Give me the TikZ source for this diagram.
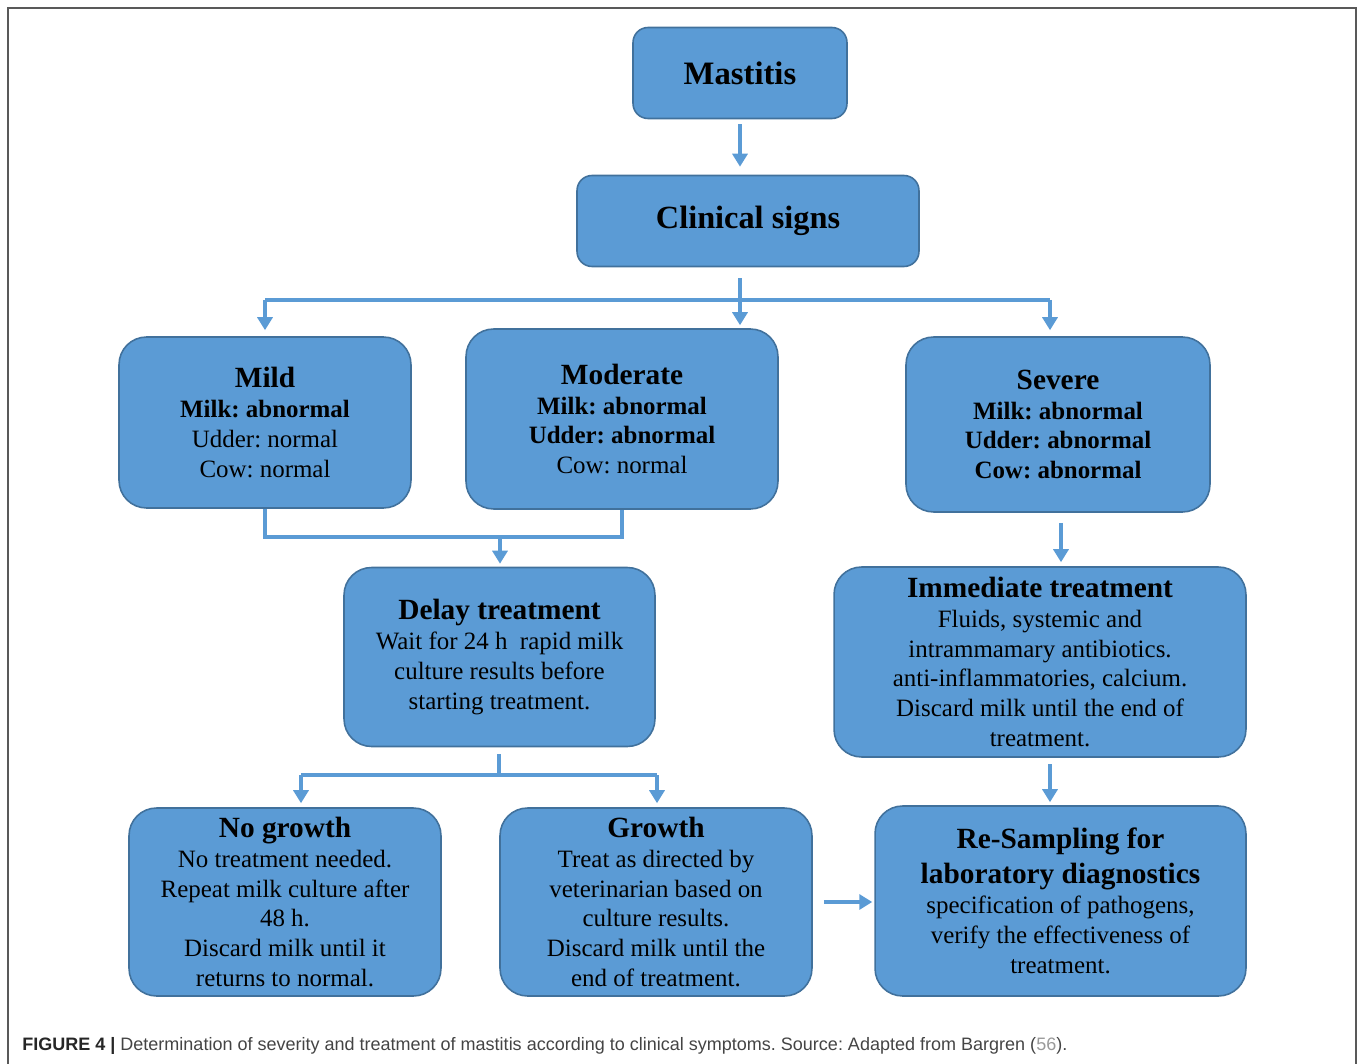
\documentclass[tikz,border=0pt]{standalone}
\usepackage{fontspec}
\setmainfont{Liberation Serif}
\newfontfamily\capfont{Liberation Sans}
\usetikzlibrary{arrows.meta}
\definecolor{boxblue}{HTML}{5B9BD5}
\definecolor{boxedge}{HTML}{41719C}
\definecolor{capgray}{HTML}{444444}
\tikzset{
  box/.style={draw=boxedge, fill=boxblue, line width=0.9pt, rounded corners=0.55cm,
    align=center, inner sep=0pt, font=\fontsize{14.2}{17}\selectfont},
  conn/.style={draw=boxblue, line width=2.2pt},
  arr/.style={conn, -{Triangle[width=0.3cm, length=0.26cm]}},
}
\newcommand{\hd}[1]{{\fontsize{16.7}{20}\selectfont\bfseries #1}}
\begin{document}
\frenchspacing
\begin{tikzpicture}[x=0.02cm, y=-0.02cm]
  \useasboundingbox (0,0) rectangle (1360,1064);
  % frame round the figure (open at the bottom)
  \draw[line width=1.2pt, draw=black!65] (8,1064) -- (8,8) -- (1356,8) -- (1356,1064);
  % boxes
  \node[box, rounded corners=0.3cm, minimum width=4.28cm, minimum height=1.82cm] (mast) at (740,73)
    {\fontsize{18.6}{22}\selectfont\bfseries Mastitis};
  \node[box, rounded corners=0.3cm, minimum width=6.84cm, minimum height=1.82cm] (clin) at (748,221)
    {\fontsize{18.4}{22}\selectfont\bfseries Clinical signs};
  \node[box, minimum width=5.84cm, minimum height=3.42cm] (mild) at (265,422.5)
    {\hd{Mild}\\ \textbf{Milk: abnormal}\\ Udder: normal\\ Cow: normal};
  \node[box, minimum width=6.24cm, minimum height=3.6cm] (mod) at (622,419)
    {\hd{Moderate}\\ \textbf{Milk: abnormal}\\ \textbf{Udder: abnormal}\\ Cow: normal};
  \node[box, minimum width=6.08cm, minimum height=3.5cm] (sev) at (1058,424.5)
    {\hd{Severe}\\ \textbf{Milk: abnormal}\\ \textbf{Udder: abnormal}\\ \textbf{Cow: abnormal}};
  \node[box, minimum width=6.22cm, minimum height=3.58cm] (delay) at (499.5,657)
    {\hd{Delay treatment}\\ Wait for 24 h~ rapid milk\\ culture results before\\ starting treatment.};
  \node[box, minimum width=8.24cm, minimum height=3.8cm] (imm) at (1040,662)
    {\hd{Immediate treatment}\\ Fluids, systemic and\\ intrammamary antibiotics.\\ anti-inflammatories, calcium.\\ Discard milk until the end of\\ treatment.};
  \node[box, minimum width=6.24cm, minimum height=3.76cm] (nog) at (285,902)
    {\hd{No growth}\\ No treatment needed.\\ Repeat milk culture after\\ 48 h.\\ Discard milk until it\\ returns to normal.};
  \node[box, minimum width=6.24cm, minimum height=3.76cm] (grow) at (656,902)
    {\hd{Growth}\\ Treat as directed by\\ veterinarian based on\\ culture results.\\ Discard milk until the\\ end of treatment.};
  \node[box, minimum width=7.42cm, minimum height=3.8cm] (resamp) at (1060.5,901)
    {\hd{Re-Sampling for}\\[0.1cm] \hd{laboratory diagnostics}\\ specification of pathogens,\\ verify the effectiveness of\\ treatment.};
  % junction points
  \coordinate (top) at (740,300);
  \coordinate (tl) at (265,300);
  \coordinate (tr) at (1050,300);
  \coordinate (mj) at (500,537);
  \coordinate (sj) at (1061,511);
  \coordinate (dj) at (499,775);
  \coordinate (dl) at (301,775);
  \coordinate (dr) at (657,775);
  \coordinate (ij) at (1050,756);
  % connectors
  \draw[arr, shorten <=0.1cm, shorten >=0.16cm] (mast.south) -- (mast.south |- clin.north);
  \draw[conn, shorten <=0.22cm] (clin.south -| top) -- (top);
  \draw[conn] (tl) -- (tr);
  \draw[arr, shorten >=0.12cm] (tl) -- (tl |- mild.north);
  \draw[arr, shorten >=0.06cm] (top) -- (top |- mod.north);
  \draw[arr, shorten >=0.12cm] (tr) -- (tr |- sev.north);
  \draw[conn] (mild.south) |- (mod.south |- mj) -- (mod.south);
  \draw[arr, shorten >=0.06cm] (mj) -- (mj |- delay.north);
  \draw[arr, shorten <=0.24cm, shorten >=0.08cm] (sj) -- (sj |- imm.north);
  \draw[conn, shorten <=0.14cm] (delay.south -| dj) -- (dj);
  \draw[conn] (dl) -- (dr);
  \draw[arr, shorten >=0.08cm] (dl) -- (dl |- nog.north);
  \draw[arr, shorten >=0.08cm] (dr) -- (dr |- grow.north);
  \draw[arr, shorten <=0.16cm, shorten >=0.06cm] (ij) -- (ij |- resamp.north);
  \draw[arr, shorten <=0.22cm, shorten >=0.04cm] (grow.east) -- (resamp.west |- grow.east);
  % caption
  \node[anchor=base west, inner sep=0pt, font=\capfont\fontsize{10.25}{12}\selectfont, text=capgray] (cap) at (22,1050)
    {\textcolor{black!85}{\textbf{FIGURE 4 |}} Determination of severity and treatment of mastitis according to clinical symptoms. Source: Adapted from Bargren ({\color{black!40}56}).};
\end{tikzpicture}
\end{document}
